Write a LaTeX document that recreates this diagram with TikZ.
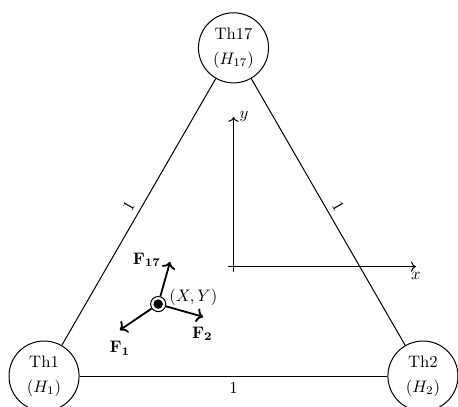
\documentclass[tikz,border=0pt]{standalone}
\usepackage{amsmath}
\usetikzlibrary{positioning,arrows.meta}
\begin{document}
\begin{tikzpicture}[semithick,
  thnode/.style={draw,circle,minimum size=1.48cm,inner sep=0pt,align=center},
  force/.style={->,line width=1.1pt},
  axis/.style={->}]
  \useasboundingbox (-0.93,-0.65) rectangle (8.74,7.94);
  % ---------------- Threads ----------------
  \node[thnode] (th1) at (0,0) {Th1\\[3pt]$(H_1)$};
  \node[thnode] (th2) at (8,0) {Th2\\[3pt]$(H_2)$};
  \node[thnode] (th17) at (4,6.93) {Th17\\[3pt]$(H_{17})$};
  \draw (th1) -- (th17) node[midway,above,sloped] {1};
  \draw (th17) -- (th2) node[midway,above,sloped] {1};
  \draw (th1) -- (th2) node[midway,below] {1};

  % ---------------- Axes ----------------
  \coordinate (xstart) at (3.88,2.31);
  \coordinate (xend) at (7.85,2.31);
  \coordinate (ystart) at (4,2.2);
  \coordinate (yend) at (4,5.47);
  \draw[axis] (xstart) -- (xend) node[below] {$x$};
  \draw[axis] (ystart) -- (yend) node[right] {$y$};

  % ---------------- Point and forces ----------------
  \node[draw,circle,minimum size=0.32cm,inner sep=0pt] (pt) at (2.41,1.52) {};
  \fill (pt.center) circle (0.1);
  \node[anchor=west,inner sep=1pt] (ptlabel) at (2.6,1.67) {$(X,Y)$};
  \coordinate (f17) at (2.66,2.41);
  \coordinate (f1) at (1.60,0.97);
  \coordinate (f2) at (3.36,1.25);
  \draw[force] (pt) -- (f17);
  \draw[force] (pt) -- (f1);
  \draw[force] (pt) -- (f2);
  \node (f17label) at (2.17,2.45) {$\mathbf{F_{17}}$};
  \node (f1label) at (1.60,0.59) {$\mathbf{F_1}$};
  \node (f2label) at (3.34,0.89) {$\mathbf{F_2}$};
\end{tikzpicture}
\end{document}
